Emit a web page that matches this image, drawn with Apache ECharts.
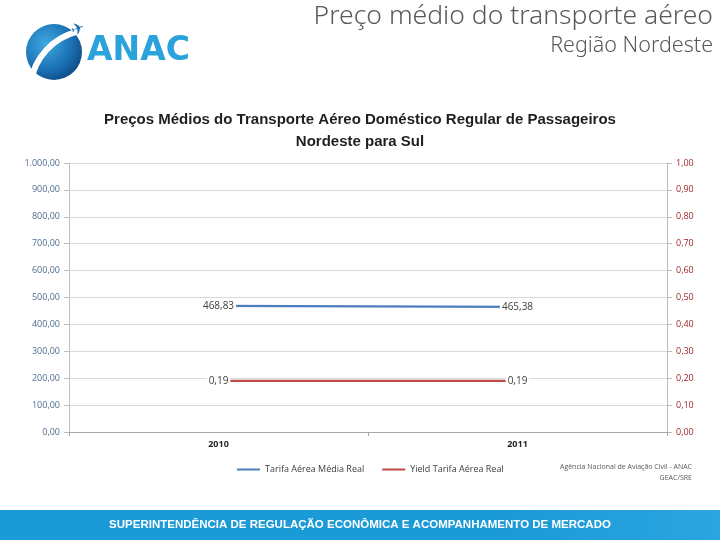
<!DOCTYPE html>
<html>
<head>
<meta charset="utf-8">
<script src="https://cdn.jsdelivr.net/npm/echarts@6/dist/echarts.min.js"></script>
<style>
  html, body { margin: 0; padding: 0; background: #fff; }
  #chart { width: 720px; height: 540px; }
</style>
</head>
<body>
<div id="chart"></div>
<script>
// dados
const anos = ['2010', '2011']
const tarifaMedia = [468.83, 465.38]
const yieldTarifa = [0.19, 0.19]
const nomesSeries = ['Tarifa Aérea Média Real', 'Yield Tarifa Aérea Real']

const azul = '#4a7ebb'
const vermelho = '#be4b48'

// formata no padrao pt-BR: 1.000,00
const fmtBR = (v, casas) => {
  const partes = Number(v).toFixed(casas).split('.')
  partes[0] = partes[0].replace(/\B(?=(\d{3})+(?!\d))/g, '.')
  return partes.join(',')
}

// rotulo centrado no ponto, com fundo branco (como no Excel)
const rotulo = () => ({
  show: true,
  position: 'inside',
  fontSize: 10,
  fontFamily: 'Open Sans',
  color: '#404040',
  backgroundColor: '#fff',
  padding: [1, 2],
  formatter: (p) => fmtBR(p.value, 2)
})

const myChart = echarts.init(document.getElementById('chart'))

const option = {
  animation: false,
  textStyle: { fontFamily: 'Open Sans' },
  grid: { left: 69, right: 53, top: 163, bottom: 108, containLabel: false },
  legend: {
    data: nomesSeries,
    left: 232,
    top: 460,
    itemWidth: 23,
    itemHeight: 2,
    itemGap: 18,
    icon: 'rect',
    textStyle: { fontSize: 9, color: '#404040', fontFamily: 'Open Sans' }
  },
  xAxis: {
    type: 'category',
    data: anos,
    boundaryGap: true,
    axisLine: { lineStyle: { color: '#a6a6a6' } },
    axisTick: { show: true, length: 4, lineStyle: { color: '#a6a6a6' } },
    axisLabel: { fontSize: 9, fontWeight: 'bold', color: '#262626', margin: 8 }
  },
  yAxis: [
    {
      type: 'value',
      min: 0,
      max: 1000,
      interval: 100,
      axisLine: { show: true, lineStyle: { color: '#bfbfbf' } },
      axisTick: { show: true, length: 5, lineStyle: { color: '#bfbfbf' } },
      splitLine: { lineStyle: { color: '#d9d9d9' } },
      axisLabel: {
        fontSize: 9,
        color: '#4f6d8f',
        margin: 9,
        formatter: (v) => fmtBR(v, 2)
      }
    },
    {
      type: 'value',
      min: 0,
      max: 1,
      interval: 0.1,
      position: 'right',
      axisLine: { show: true, lineStyle: { color: '#bfbfbf' } },
      axisTick: { show: true, length: 5, lineStyle: { color: '#bfbfbf' } },
      splitLine: { show: false },
      axisLabel: {
        fontSize: 9,
        color: '#a0282a',
        margin: 9,
        formatter: (v) => fmtBR(v, 2)
      }
    }
  ],
  series: [
    {
      name: nomesSeries[0],
      type: 'line',
      yAxisIndex: 0,
      data: tarifaMedia,
      symbol: 'circle',
      symbolSize: 1,
      showSymbol: true,
      color: azul,
      lineStyle: { width: 2.2, color: azul },
      label: rotulo(),
      labelLayout: { hideOverlap: false },
      z: 3
    },
    {
      name: nomesSeries[1],
      type: 'line',
      yAxisIndex: 1,
      data: yieldTarifa,
      symbol: 'circle',
      symbolSize: 1,
      showSymbol: true,
      color: vermelho,
      lineStyle: { width: 2.2, color: vermelho },
      label: rotulo(),
      labelLayout: { hideOverlap: false },
      z: 3
    }
  ],
  graphic: [
    // cabecalho
    {
      type: 'text', right: 7, top: 3,
      style: { text: 'Preço médio do transporte aéreo', font: '300 26.5px "Noto Sans"', fill: '#595959' }
    },
    {
      type: 'text', right: 7, top: 35,
      style: { text: 'Região Nordeste', font: '300 21.5px "Noto Sans"', fill: '#595959' }
    },
    // logo ANAC
    {
      type: 'circle', shape: { cx: 54, cy: 52, r: 28 },
      style: {
        fill: new echarts.graphic.RadialGradient(0.35, 0.35, 0.8, [
          { offset: 0, color: '#3fa9e0' },
          { offset: 0.6, color: '#1a6fb3' },
          { offset: 1, color: '#0d3f73' }
        ])
      }
    },
    {
      type: 'arc', shape: { cx: 92, cy: 92, r: 62, startAngle: Math.PI * 1.05, endAngle: Math.PI * 1.42 },
      style: { stroke: '#fff', lineWidth: 6, fill: null }
    },
    {
      type: 'text', left: 69, top: 20, rotation: 0.35,
      style: { text: '✈', font: '16px "DejaVu Sans"', fill: '#1a6fb3' }
    },
    {
      type: 'text', left: 87, top: 35,
      style: { text: 'ANAC', font: 'bold 33px "DejaVu Sans"', fill: '#2aa3dc' }
    },
    // titulo do grafico
    {
      type: 'text', left: 'center', top: 109,
      style: {
        text: 'Preços Médios do Transporte Aéreo Doméstico Regular de Passageiros\nNordeste para Sul',
        font: 'bold 15px "Liberation Sans"', fill: '#1f1f1f', textAlign: 'center', lineHeight: 22
      }
    },
    // fonte
    {
      type: 'text', right: 28, top: 461,
      style: {
        text: 'Agência Nacional de Aviação Civil - ANAC\nGEAC/SRE',
        font: '7px "Open Sans"', fill: '#595959', textAlign: 'right', lineHeight: 11
      }
    },
    // faixa inferior
    {
      type: 'rect', shape: { x: 0, y: 510, width: 720, height: 30 },
      style: {
        fill: new echarts.graphic.LinearGradient(0, 0, 1, 0, [
          { offset: 0, color: '#1b9ad8' },
          { offset: 0.7, color: '#1b9ad8' },
          { offset: 1, color: '#2aa5e0' }
        ])
      }
    },
    {
      type: 'text', left: 'center', top: 519,
      style: {
        text: 'SUPERINTENDÊNCIA DE REGULAÇÃO ECONÔMICA E ACOMPANHAMENTO DE MERCADO',
        font: 'bold 11.5px "Liberation Sans"', fill: '#fff'
      }
    }
  ]
}

myChart.setOption(option)
</script>
</body>
</html>
